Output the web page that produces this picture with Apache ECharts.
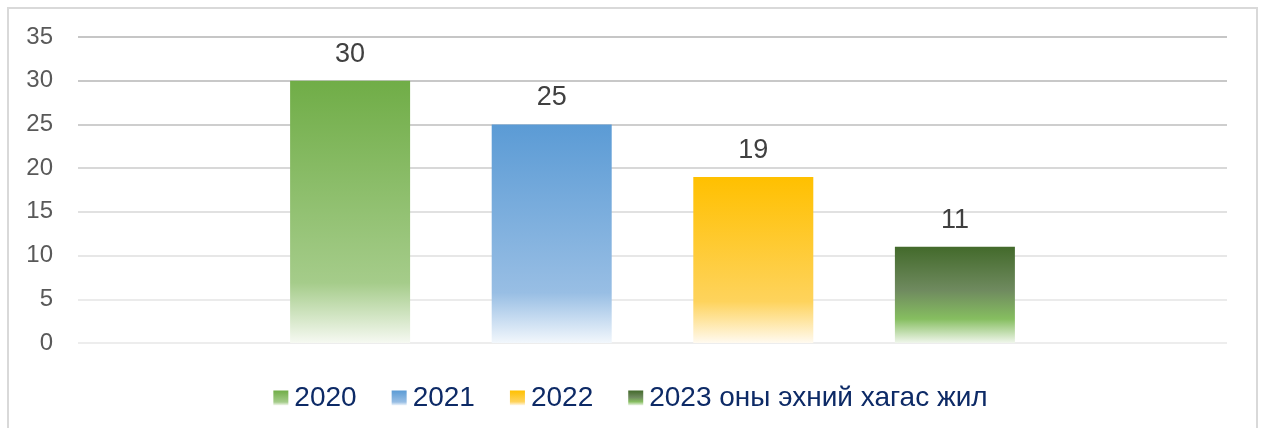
<!DOCTYPE html>
<html>
<head>
<meta charset="utf-8">
<script src="https://cdn.jsdelivr.net/npm/echarts@6/dist/echarts.min.js"></script>
<style>
  body { margin: 0; background: #fff; overflow: hidden; }
  #frame { position: absolute; left: 7px; top: 7px; width: 1247px; height: 440px;
           border: 2px solid #d9d9d9; border-bottom: none; }
  #chart { position: absolute; left: 0; top: 0; width: 1261px; height: 428px; }
</style>
</head>
<body>
<div id="frame"></div>
<div id="chart"></div>
<script>
// data
var years = ['2020', '2021', '2022', '2023 оны эхний хагас жил']
var values = [30, 25, 19, 11]
var yTicks = { min: 0, max: 35, interval: 5 }

// excel-like gradient fills, top -> bottom
var fills = [
  [[0, '#70ad47'], [0.77, '#a5cc8a'], [1, '#f6f9f2']],
  [[0, '#5b9bd5'], [0.77, '#98bee4'], [1, '#f2f7fc']],
  [[0, '#ffc000'], [0.75, '#fed35c'], [1, '#fffaf0']],
  [[0, '#436a2b'], [0.45, '#6f8a5f'], [0.75, '#86be60'], [1, '#f0f6ec']]
]

function grad(stops) {
  return new echarts.graphic.LinearGradient(0, 0, 0, 1, stops.map(function (s) {
    return { offset: s[0], color: s[1] }
  }))
}

var series = years.map(function (name, i) {
  return {
    name: name,
    type: 'bar',
    data: [values[i]],
    barWidth: 120,
    barGap: '68%',
    itemStyle: { color: grad(fills[i]) },
    label: {
      show: true,
      position: 'top',
      distance: 13,
      fontSize: 27,
      color: '#404040',
      fontFamily: 'Liberation Sans'
    }
  }
})

var chart = echarts.init(document.getElementById('chart'))
chart.setOption({
  animation: false,
  grid: { left: 78, right: 34, top: 37, bottom: 85 },
  legend: {
    top: 379,
    left: 'center',
    icon: 'rect',
    itemWidth: 15,
    itemHeight: 15,
    itemGap: 35,
    textStyle: { fontSize: 28, color: '#0d2a66', fontFamily: 'Liberation Sans', padding: [0, 0, 0, 1] }
  },
  xAxis: {
    type: 'category',
    data: [''],
    axisLine: { show: false },
    axisTick: { show: false },
    axisLabel: { show: false }
  },
  yAxis: {
    type: 'value',
    min: yTicks.min,
    max: yTicks.max,
    interval: yTicks.interval,
    axisLabel: { fontSize: 24, color: '#595959', margin: 25, fontFamily: 'Liberation Sans' },
    splitLine: {
      lineStyle: {
        width: 2,
        color: ['#ededed', '#ebebeb', '#e7e7e7', '#e1e1e1', '#d8d8d8', '#cecece', '#c8c8c8', '#c6c6c6']
      }
    }
  },
  series: series
})
</script>
</body>
</html>
